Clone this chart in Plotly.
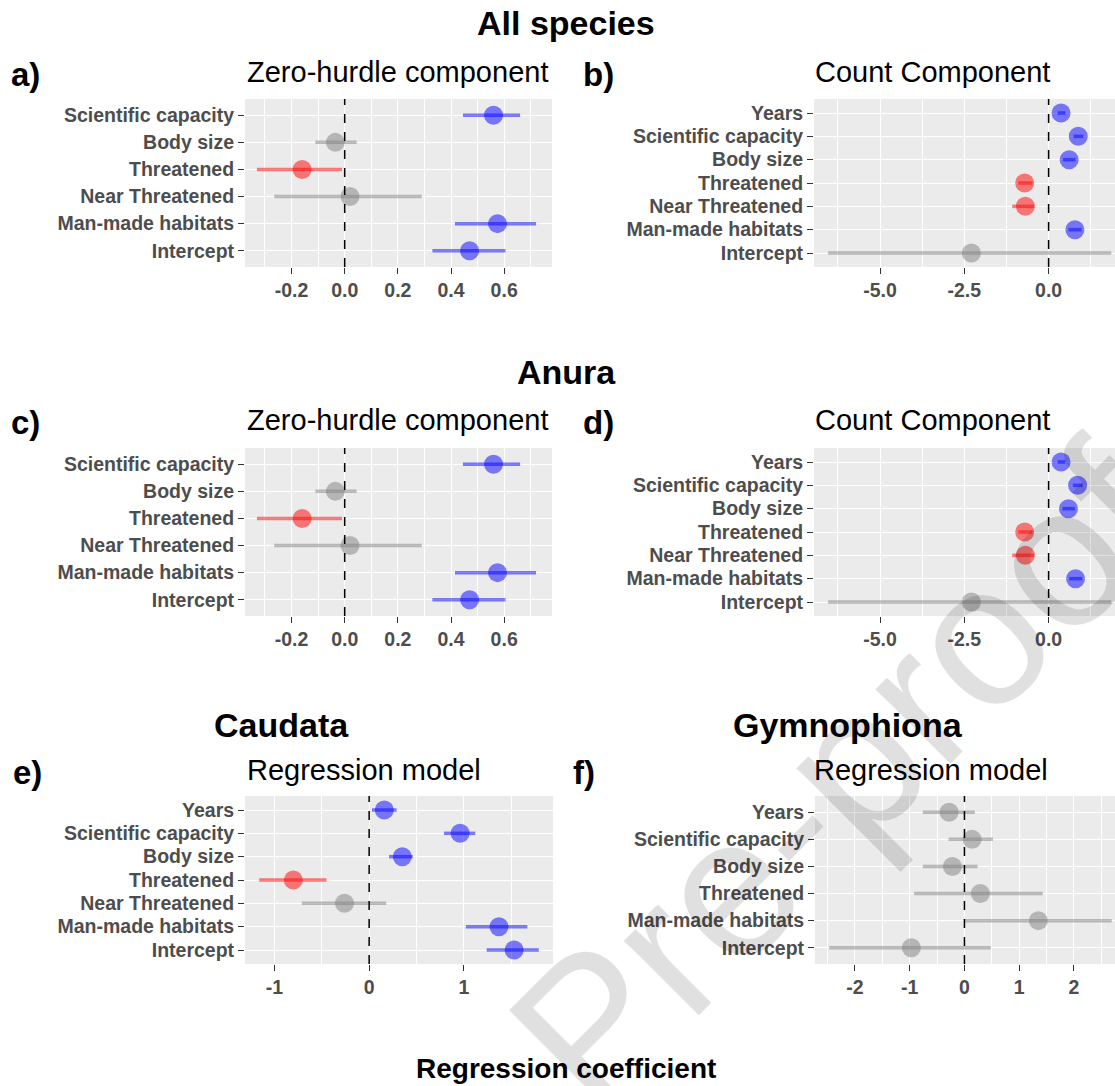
import plotly.graph_objects as go

W, H = 1115, 1086

# ---------------- data ----------------
cats_zero = ["Scientific capacity", "Body size", "Threatened", "Near Threatened",
             "Man-made habitats", "Intercept"]
cats_count = ["Years", "Scientific capacity", "Body size", "Threatened", "Near Threatened",
              "Man-made habitats", "Intercept"]
cats_caud = ["Years", "Scientific capacity", "Body size", "Threatened", "Near Threatened",
             "Man-made habitats", "Intercept"]
cats_gymn = ["Years", "Scientific capacity", "Body size", "Threatened",
             "Man-made habitats", "Intercept"]

# a) All species, zero-hurdle
a_est = [0.56, -0.035, -0.16, 0.02, 0.575, 0.47]
a_lo = [0.445, -0.11, -0.33, -0.265, 0.415, 0.33]
a_hi = [0.66, 0.045, -0.01, 0.29, 0.72, 0.605]
a_sig = ["pos", "ns", "neg", "ns", "pos", "pos"]

# b) All species, count
b_est = [0.37, 0.88, 0.61, -0.71, -0.69, 0.78, -2.29]
b_lo = [0.27, 0.74, 0.43, -0.90, -1.08, 0.59, -6.54]
b_hi = [0.50, 1.03, 0.80, -0.48, -0.43, 0.98, 1.86]
b_sig = ["pos", "pos", "pos", "neg", "neg", "pos", "ns"]

# c) Anura, zero-hurdle
c_est = [0.56, -0.035, -0.16, 0.02, 0.575, 0.47]
c_lo = [0.445, -0.11, -0.33, -0.265, 0.415, 0.33]
c_hi = [0.66, 0.045, -0.01, 0.29, 0.72, 0.605]
c_sig = ["pos", "ns", "neg", "ns", "pos", "pos"]

# d) Anura, count
d_est = [0.37, 0.86, 0.59, -0.71, -0.69, 0.80, -2.29]
d_lo = [0.27, 0.72, 0.41, -0.90, -1.08, 0.61, -6.54]
d_hi = [0.50, 1.01, 0.78, -0.48, -0.43, 1.00, 1.86]
d_sig = ["pos", "pos", "pos", "neg", "neg", "pos", "ns"]

# e) Caudata, regression
e_est = [0.16, 0.96, 0.35, -0.80, -0.26, 1.37, 1.53]
e_lo = [0.03, 0.79, 0.21, -1.16, -0.71, 1.02, 1.24]
e_hi = [0.29, 1.12, 0.46, -0.45, 0.18, 1.67, 1.79]
e_sig = ["pos", "pos", "pos", "neg", "ns", "pos", "pos"]

# f) Gymnophiona, regression
f_est = [-0.28, 0.14, -0.22, 0.29, 1.35, -0.97]
f_lo = [-0.76, -0.29, -0.76, -0.92, -0.01, -2.47]
f_hi = [0.19, 0.52, 0.24, 1.43, 2.69, 0.48]
f_sig = ["ns", "ns", "ns", "ns", "ns", "ns"]

# tick values / labels
ticks_zero = [-0.2, 0.0, 0.2, 0.4, 0.6]
ticklab_zero = ["-0.2", "0.0", "0.2", "0.4", "0.6"]
ticks_count = [-5.0, -2.5, 0.0]
ticklab_count = ["-5.0", "-2.5", "0.0"]
ticks_caud = [-1, 0, 1]
ticklab_caud = ["-1", "0", "1"]
ticks_gymn = [-2, -1, 0, 1, 2]
ticklab_gymn = ["-2", "-1", "0", "1", "2"]

COL = {"pos": "rgba(0,0,255,0.5)", "neg": "rgba(255,0,0,0.5)", "ns": "rgba(128,128,128,0.5)"}

FONT = "Liberation Sans, Arial, sans-serif"

panels = [
    # cats, est, lo, hi, sig, xpx, ypx, range, minor dtick, tickvals, ticktext
    (cats_zero, a_est, a_lo, a_hi, a_sig, (245, 552), (99, 267), (-0.375, 0.78), 0.1, ticks_zero, ticklab_zero),
    (cats_count, b_est, b_lo, b_hi, b_sig, (814, 1115), (99, 267), (-6.96, 1.97), 1.25, ticks_count, ticklab_count),
    (cats_zero, c_est, c_lo, c_hi, c_sig, (245, 552), (448, 616), (-0.375, 0.78), 0.1, ticks_zero, ticklab_zero),
    (cats_count, d_est, d_lo, d_hi, d_sig, (814, 1115), (448, 616), (-6.96, 1.97), 1.25, ticks_count, ticklab_count),
    (cats_caud, e_est, e_lo, e_hi, e_sig, (245, 553), (796, 964), (-1.31, 1.94), 0.5, ticks_caud, ticklab_caud),
    (cats_gymn, f_est, f_lo, f_hi, f_sig, (815, 1115), (796, 964), (-2.73, 2.75), 0.5, ticks_gymn, ticklab_gymn),
]

fig = go.Figure()
layout = dict(
    width=W, height=H, autosize=False,
    margin=dict(l=0, r=0, t=0, b=0),
    paper_bgcolor="white", plot_bgcolor="#EBEBEB",
    showlegend=False,
    font=dict(family=FONT),
)
shapes = []
annotations = []

for i, (cats, est, lo, hi, sig, xp, yp, rng, mdt, tv, tt) in enumerate(panels, start=1):
    xa = "x" if i == 1 else f"x{i}"
    ya = "y" if i == 1 else f"y{i}"
    cols = [COL[s] for s in sig]
    # confidence-interval segments
    for c, l, h, col in zip(cats, lo, hi, cols):
        fig.add_trace(go.Scatter(
            x=[l, h], y=[c, c], mode="lines", xaxis=xa, yaxis=ya,
            line=dict(color=col, width=3.5), hoverinfo="skip",
        ))
    # point estimates on top
    fig.add_trace(go.Scatter(
        x=est, y=cats, mode="markers", xaxis=xa, yaxis=ya,
        marker=dict(size=19, color=cols, line=dict(width=0)),
        hoverinfo="skip",
    ))

    n = len(cats)
    xkey = "xaxis" if i == 1 else f"xaxis{i}"
    ykey = "yaxis" if i == 1 else f"yaxis{i}"
    layout[xkey] = dict(
        domain=[xp[0] / W, xp[1] / W], anchor=ya,
        range=list(rng), tickmode="array", tickvals=tv, ticktext=tt,
        showgrid=True, gridcolor="white", gridwidth=1.3,
        minor=dict(tickmode="linear", tick0=0, dtick=mdt, showgrid=True,
                   gridcolor="white", gridwidth=0.6),
        zeroline=False, showline=False,
        ticks="outside", ticklen=6, tickwidth=1.2, tickcolor="#333333",
        tickfont=dict(family=FONT, size=19.5, color="#4D4D4D", weight="bold"),
        fixedrange=True,
    )
    layout[ykey] = dict(
        domain=[1 - yp[1] / H, 1 - yp[0] / H], anchor=xa,
        type="category", categoryorder="array", categoryarray=list(reversed(cats)),
        range=[-0.6, n - 0.4],
        showgrid=True, gridcolor="white", gridwidth=1.3,
        zeroline=False, showline=False,
        ticks="outside", ticklen=6, tickwidth=1.2, tickcolor="#333333",
        tickfont=dict(family=FONT, size=19.5, color="#4D4D4D", weight="bold"),
        fixedrange=True,
    )
    shapes.append(dict(type="line", xref=xa, yref="paper", x0=0, x1=0,
                       y0=1 - yp[1] / H, y1=1 - yp[0] / H,
                       line=dict(color="black", width=1.5, dash="dash"), layer="above"))


def ann(text, x, y, size, bold=False, xanchor="center"):
    annotations.append(dict(
        text=text, x=x / W, y=1 - y / H, xref="paper", yref="paper",
        xanchor=xanchor, yanchor="middle", showarrow=False,
        font=dict(family=FONT, size=size, color="black", weight="bold" if bold else "normal"),
    ))


# group titles
ann("All species", 566, 23, 34, True)
ann("Anura", 566, 372, 34, True)
ann("Caudata", 281, 725, 34, True)
ann("Gymnophiona", 848, 725, 34, True)
# panel letters
ann("a)", 9, 75, 33, True, "left")
ann("b)", 581, 75, 33, True, "left")
ann("c)", 9, 422, 33, True, "left")
ann("d)", 581, 422, 33, True, "left")
ann("e)", 11, 772, 33, True, "left")
ann("f)", 571, 772, 33, True, "left")
# panel titles
ann("Zero-hurdle component", 245, 72, 29, False, "left")
ann("Count Component", 813, 72, 29, False, "left")
ann("Zero-hurdle component", 245, 420, 29, False, "left")
ann("Count Component", 813, 420, 29, False, "left")
ann("Regression model", 245, 770, 29, False, "left")
ann("Regression model", 812, 770, 29, False, "left")
# x label
ann("Regression coefficient", 566, 1068, 28, True)

# watermark
annotations.append(dict(
    text="Pre-proof", x=840 / W, y=1 - 775 / H, xref="paper", yref="paper",
    xanchor="center", yanchor="middle", showarrow=False, textangle=-45,
    font=dict(family=FONT, size=200, color="rgba(0,0,0,0.12)"),
))

layout["shapes"] = shapes
layout["annotations"] = annotations
fig.update_layout(**layout)
fig.write_html("out.html")
